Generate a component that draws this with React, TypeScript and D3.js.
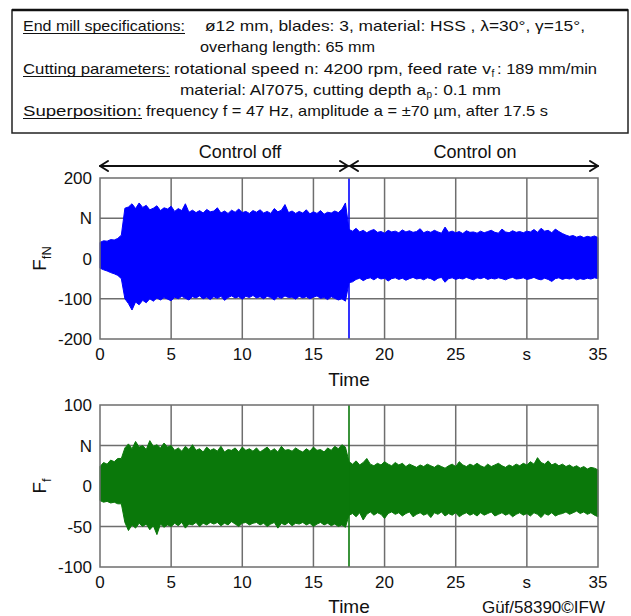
import React from "react";
import * as d3 from "d3";

// ---------- data ----------
const xTickValues = [0, 5, 10, 15, 20, 25, 30, 35];
const xTickLabels = ["0", "5", "10", "15", "20", "25", "s", "35"];

const fnTickValues = [200, 100, 0, -100, -200];
const fnTickLabels = ["200", "N", "0", "-100", "-200"];
const ffTickValues = [100, 50, 0, -50, -100];
const ffTickLabels = ["100", "N", "0", "-50", "-100"];

const sampleStep = 0.25; // s, envelope sample spacing
const controlSwitchTime = 17.5;

// F_fN envelope (N), samples every 0.25 s from 0 to 35 s
const fnUpper = [
  40, 44, 43, 47, 46, 50, 58,
  125,
  128, 136, 124, 138, 127, 132, 121, 125, 131, 119, 126, 123,
  130, 117, 124, 119, 136, 115, 120, 114, 119, 113, 122, 116,
  118, 126, 113, 118, 112, 120, 115, 123, 114, 117, 112, 119,
  115, 121, 113, 117, 112, 124, 116, 120, 134, 114, 118, 112,
  117, 113, 121, 111, 116, 112, 119, 110, 115, 113, 118, 114,
  122, 138,
  72,
  68, 75, 66, 70, 64, 69, 72, 65, 67, 63, 70, 66,
  68, 64, 71, 66, 69, 65, 67, 74, 64, 68, 65, 70,
  66, 63, 78, 65, 68, 64, 67, 62, 69, 65, 66, 63,
  68, 64, 67, 70, 65, 63, 73, 66, 64, 69, 65, 67,
  64, 68, 66, 72, 65, 75, 68, 70, 64, 73, 67, 62,
  58, 55, 57, 53, 56, 52, 55, 53, 56, 52,
];
const fnLower = [
  -24, -28, -31, -35, -38, -42, -50,
  -100,
  -112, -128, -108, -115, -104, -110, -100, -106, -98, -103, -97, -101,
  -105, -96, -100, -94, -99, -103, -95, -98, -93, -100, -96, -102,
  -95, -99, -94, -104, -97, -93, -98, -95, -101, -94, -97, -92,
  -98, -95, -100, -94, -97, -103, -95, -99, -93, -97, -96, -101,
  -94, -98, -95, -100, -96, -93, -99, -97, -102, -95, -99, -103,
  -100, -106,
  -60,
  -58, -52, -49, -55, -50, -48, -53, -47, -51, -49, -56, -50,
  -48, -52, -49, -54, -50, -47, -51, -49, -53, -48, -50, -55,
  -49, -47, -59, -50, -48, -52, -49, -51, -47, -50, -53, -48,
  -50, -47, -52, -49, -51, -48, -50, -53, -49, -47, -51, -50,
  -48, -52, -50, -47, -51, -53, -49, -52, -57, -50, -48, -52,
  -49, -51, -48, -53, -50, -52, -49, -51, -48, -50,
];

// F_f envelope (N)
const ffUpper = [
  24, 29, 27, 32, 30, 34, 34,
  47,
  52, 46, 55, 48, 50, 45, 56, 49, 51, 47, 53, 48,
  50, 44, 47, 43, 49, 45, 51, 44, 46, 42, 48, 44,
  46, 43, 49, 42, 45, 44, 47, 42, 48, 44, 46, 43,
  47, 42, 45, 48, 43, 46, 42, 49, 44, 45, 43, 47,
  44, 42, 46, 43, 48, 44, 45, 42, 47, 44, 49, 46,
  51, 48,
  30,
  27, 31, 26, 29, 34, 27, 25, 28, 26, 30, 27, 25,
  29, 26, 28, 24, 27, 25, 23, 26, 24, 27, 25, 23,
  26, 24, 22, 25, 27, 24, 30, 26, 24, 27, 25, 28,
  25, 23, 27, 24, 26, 28, 25, 23, 26, 24, 27, 25,
  28, 26, 30, 27, 35, 29, 27, 31, 26, 28, 25, 27,
  24, 26, 23, 25, 22, 24, 21, 23, 22, 20,
];
const ffLower = [
  -18, -20, -19, -21, -20, -22, -22,
  -45,
  -55, -48, -52, -46, -50, -47, -54, -49, -60, -47, -51, -48,
  -50, -46, -49, -45, -52, -47, -48, -45, -50, -46, -48, -45,
  -47, -45, -49, -46, -48, -44, -47, -50, -46, -45, -48, -46,
  -45, -48, -46, -50, -47, -45, -52, -46, -48, -45, -49, -46,
  -47, -45, -48, -46, -50, -47, -45, -48, -46, -49, -47, -50,
  -48, -51,
  -36,
  -34, -38, -33, -42, -35, -32, -36, -33, -35, -40, -34, -32,
  -35, -33, -37, -34, -32, -38, -35, -33, -36, -34, -39, -33,
  -35, -32, -37, -34, -36, -33, -38, -35, -33, -36, -34, -37,
  -33, -36, -34, -32, -37, -35, -33, -36, -34, -38, -35, -33,
  -36, -34, -37, -33, -35, -39, -34, -36, -33, -37, -35, -34,
  -32, -35, -33, -31, -34, -32, -35, -33, -36, -38,
];

// ---------- layout ----------
const W = 631;
const H = 616;
const plotLeft = 100;
const plotRight = 598;
const top1 = 178, bottom1 = 339;
const top2 = 405, bottom2 = 567;
const FONT = "Arial, 'Liberation Sans', Helvetica, sans-serif";
const GRID = "#6e6e6e";

const x = d3.scaleLinear().domain([0, 35]).range([plotLeft, plotRight]);

function Panel({
  upper, lower, yDomain, yTop, yBottom, ticks, labels, color, yLabelMain, yLabelSub, timeY,
}: any) {
  const y = d3.scaleLinear().domain(yDomain).range([yBottom, yTop]);
  const pts = upper.map((u: number, i: number) => ({ t: i * sampleStep, u, l: lower[i] }));
  const area = d3.area<any>().x((d) => x(d.t)).y0((d) => y(d.l)).y1((d) => y(d.u)).curve(d3.curveLinear)(pts) || "";
  const labelCy = y(0);
  return (
    <g>
      {xTickValues.slice(1, -1).map((v) => (
        <line key={"gx" + v} x1={x(v)} x2={x(v)} y1={yTop} y2={yBottom} stroke={GRID} strokeWidth={1.5} />
      ))}
      {ticks.slice(1, -1).map((v: number) => (
        <line key={"gy" + v} x1={plotLeft} x2={plotRight} y1={y(v)} y2={y(v)} stroke={GRID} strokeWidth={1.5} />
      ))}
      <path d={area} fill={color} stroke={color} strokeWidth={1} strokeLinejoin="miter" />
      <line x1={x(controlSwitchTime)} x2={x(controlSwitchTime)} y1={y(yDomain[1])} y2={y(yDomain[0])} stroke={color} strokeWidth={1.6} />
      <rect x={plotLeft} y={yTop} width={plotRight - plotLeft} height={yBottom - yTop} fill="none" stroke={GRID} strokeWidth={1.5} />
      {ticks.map((v: number, i: number) => (
        <text key={"yl" + v} x={92} y={y(v) + 6} textAnchor="end" fontSize={17} fontFamily={FONT} fill="#111">{labels[i]}</text>
      ))}
      {xTickValues.map((v, i) => (
        <text key={"xl" + v} x={x(v)} y={yBottom + 21} textAnchor="middle" fontSize={17} fontFamily={FONT} fill="#111">{xTickLabels[i]}</text>
      ))}
      <text x={349} y={timeY} textAnchor="middle" fontSize={19} fontFamily={FONT} fill="#111">Time</text>
      <text transform={`translate(46,${labelCy}) rotate(-90)`} textAnchor="middle" fontSize={19} fontFamily={FONT} fill="#111">
        {yLabelMain}
        <tspan fontSize={13} dy={5}>{yLabelSub}</tspan>
      </text>
    </g>
  );
}

function Arrow({ x1, x2, y }: { x1: number; x2: number; y: number }) {
  const h = 8, w = 5;
  return (
    <g stroke="#111" strokeWidth={2} fill="none" strokeLinecap="round" strokeLinejoin="round">
      <line x1={x1} x2={x2} y1={y} y2={y} />
      <polyline points={`${x1 + h},${y - w} ${x1},${y} ${x1 + h},${y + w}`} />
      <polyline points={`${x2 - h},${y - w} ${x2},${y} ${x2 - h},${y + w}`} />
    </g>
  );
}

function HText({ x0, x1, y, children, underline, size = 15 }: any) {
  return (
    <g>
      <text x={x0} y={y} textLength={x1 - x0} lengthAdjust="spacingAndGlyphs" fontSize={size} fontFamily={FONT} fill="#111">{children}</text>
      {underline && <line x1={x0} x2={x1} y1={y + 2.5} y2={y + 2.5} stroke="#111" strokeWidth={1.2} />}
    </g>
  );
}

export default function App() {
  const xs = x(controlSwitchTime);
  return (
    <svg width={W} height={H} viewBox={`0 0 ${W} ${H}`} style={{ position: "absolute", left: 0, top: 0, background: "#fff" }}>
      <rect x={0} y={0} width={W} height={H} fill="#fff" />
      <rect x={12} y={10} width={616} height={123} fill="none" stroke="#222" strokeWidth={1.5} />
      <line x1={12} x2={628} y1={10} y2={10} stroke="#111" strokeWidth={2.5} />
      <HText x0={23} x1={185} y={31} underline>End mill specifications:</HText>
      <HText x0={205} x1={585} y={31}>ø12 mm, blades: 3, material: HSS , λ=30°, γ=15°,</HText>
      <HText x0={200} x1={375} y={52}>overhang length: 65 mm</HText>
      <HText x0={23} x1={170} y={74} underline>Cutting parameters:</HText>
      <HText x0={174} x1={491} y={74}>rotational speed n: 4200 rpm, feed rate v</HText>
      <text x={491.5} y={77} fontSize={10} fontFamily={FONT} fill="#111">f</text>
      <HText x0={497} x1={597} y={74}>: 189 mm/min</HText>
      <HText x0={180} x1={426} y={95}>material: Al7075, cutting depth a</HText>
      <text x={426.5} y={98} fontSize={10} fontFamily={FONT} fill="#111">p</text>
      <HText x0={433.5} x1={501} y={95}>: 0.1 mm</HText>
      <HText x0={23} x1={142} y={116} underline>Superposition:</HText>
      <HText x0={146} x1={548} y={116}>frequency f = 47 Hz, amplitude a = ±70 µm, after 17.5 s</HText>
      <Arrow x1={plotLeft} x2={xs - 1} y={166} />
      <Arrow x1={xs + 1} x2={plotRight} y={166} />
      <text x={240} y={158} textAnchor="middle" fontSize={18} fontFamily={FONT} fill="#111">Control off</text>
      <text x={475} y={158} textAnchor="middle" fontSize={18} fontFamily={FONT} fill="#111">Control on</text>
      <Panel upper={fnUpper} lower={fnLower} yDomain={[-200, 200]} yTop={top1} yBottom={bottom1}
        ticks={fnTickValues} labels={fnTickLabels} color="#0000ff" yLabelMain="F" yLabelSub="fN" timeY={386} />
      <Panel upper={ffUpper} lower={ffLower} yDomain={[-100, 100]} yTop={top2} yBottom={bottom2}
        ticks={ffTickValues} labels={ffTickLabels} color="#0a780a" yLabelMain="F" yLabelSub="f" timeY={613} />
      <text x={605} y={613} textAnchor="end" fontSize={17} fontFamily={FONT} fill="#111">Güf/58390©IFW</text>
    </svg>
  );
}
